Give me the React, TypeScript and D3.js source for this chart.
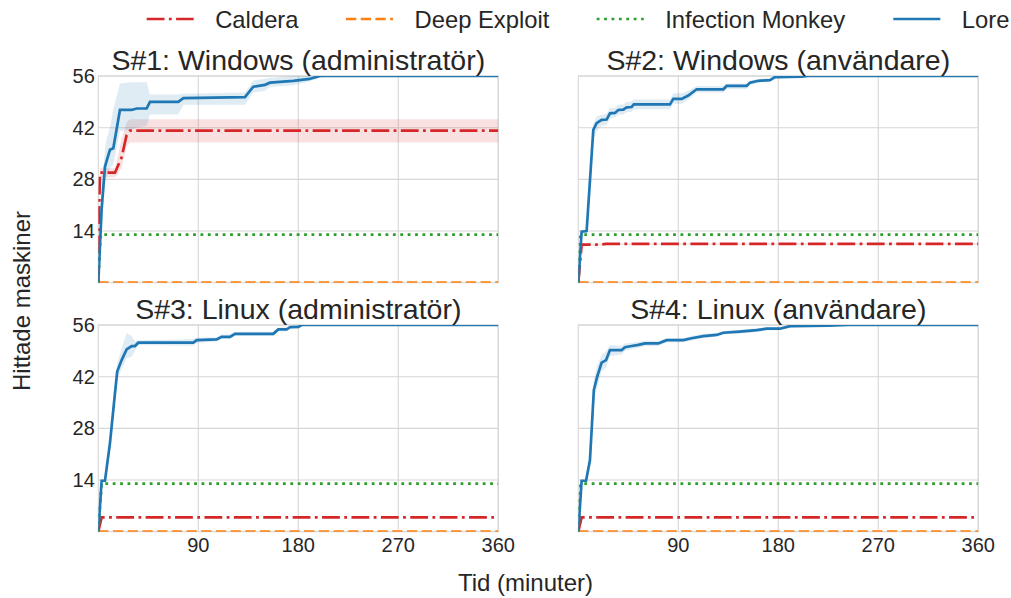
import React from 'react';
import * as d3 from 'd3';

// series names, in legend order
const seriesNames = ['Caldera', 'Deep Exploit', 'Infection Monkey', 'Lore'];
const seriesColors = ['#d62728', '#ff7f0e', '#2ca02c', '#1f77b4'];
const seriesDash = ['17.8,4.4,2.8,4.4', '10.3,4.4', '2.8,4.6', null];

const panelTitles = [
  'S#1: Windows (administratör)',
  'S#2: Windows (användare)',
  'S#3: Linux (administratör)',
  'S#4: Linux (användare)',
];

const xTicks = [90, 180, 270, 360];
const yTicks = [14, 28, 42, 56];

// [minutes, mean, low, high]
const s1Caldera = [
  [0, 0, 0, 0], [0.5, 16, 12, 20], [1.5, 29.8, 28.5, 31], [15, 29.8, 28.5, 31],
  [21, 34, 31, 39], [25.5, 40, 37, 43.5], [28.5, 41.2, 38, 44.3], [360, 41.2, 38, 44.3],
];
const s1Deep = [[0, 0, 0, 0], [360, 0, 0, 0]];
const s1Monkey = [[0, 0, 0, 0], [2, 13, 13, 13], [360, 13, 13, 13]];
const s1Lore = [
  [0, 0, 0, 0], [3, 20, 14, 26], [6, 31.4, 27, 36], [7.5, 33, 29, 39],
  [10.5, 36, 31, 42], [13.5, 36.4, 32, 47], [19.5, 46.8, 41, 54],
  [30, 46.8, 41.5, 54.3], [34.5, 47.2, 42, 54.3], [43.5, 47.2, 42.5, 54.3],
  [46.5, 49, 45.6, 51], [72, 49, 45.6, 51], [76.5, 50, 48.2, 51.2],
  [132, 50.3, 48.2, 51.5], [139.5, 53.1, 51.5, 54.8], [150, 53.6, 52, 55.2],
  [154.5, 54.2, 53, 55.5], [175.5, 54.7, 53.5, 56], [190, 55.2, 54.5, 56],
  [199.5, 56, 55.5, 56], [215, 56, 56, 56], [360, 56, 56, 56],
];

const s2Caldera = [[0, 0, 0, 0], [3, 10.3, 10, 10.6], [20, 10.3, 10, 10.6], [25, 10.5, 10.3, 10.7], [360, 10.5, 10.3, 10.7]];
const s2Deep = [[0, 0, 0, 0], [360, 0, 0, 0]];
const s2Monkey = [[0, 0, 0, 0], [2, 13, 13, 13], [360, 13, 13, 13]];
const s2Lore = [
  [0, 0, 0, 0], [3, 13.8, 13.5, 14], [7.5, 14, 13.5, 14.5], [13.5, 41.4, 38.5, 43],
  [16.5, 43.2, 41, 45], [21, 44.1, 42.5, 45.5], [25.5, 44.2, 42.8, 45.8],
  [28.5, 45.9, 44.5, 47.3], [33, 46, 44.8, 47.4], [36, 46.8, 45.5, 48.2],
  [40.5, 46.9, 45.6, 48.3], [43.5, 47.5, 46.2, 49], [48, 47.6, 46.3, 49.1],
  [50, 48.3, 47, 49.6], [82.5, 48.3, 47, 49.6], [85.5, 49.8, 48.5, 51.3],
  [93, 49.8, 48.5, 51.3], [99, 50.7, 49.5, 52], [106.5, 52.4, 51.5, 53.3],
  [130.5, 52.4, 51.5, 53.3], [133.5, 53.3, 52.5, 54], [151.5, 53.3, 52.5, 54],
  [154.5, 54.2, 53.5, 54.8], [162, 54.7, 54.2, 55.2], [172.5, 54.9, 54.5, 55.4],
  [177, 55.7, 55.3, 56], [201, 55.8, 55.5, 56], [207, 56, 56, 56], [360, 56, 56, 56],
];

const s3Caldera = [[0, 0, 0, 0], [3, 3.9, 3.9, 3.9], [360, 3.9, 3.9, 3.9]];
const s3Deep = [[0, 0, 0, 0], [360, 0, 0, 0]];
const s3Monkey = [[0, 0, 0, 0], [3, 13, 13, 13], [360, 13, 13, 13]];
const s3Lore = [
  [0, 0, 0, 0], [3, 13.8, 13.5, 14], [6, 13.8, 13.5, 14], [10.5, 24, 22, 26],
  [13.5, 33, 30.5, 35.5], [17, 43.4, 41, 45.5], [21, 46.5, 44, 49.5],
  [25.5, 49.4, 47, 53.8], [30, 50.3, 47.4, 53], [33, 50.3, 49, 51.5],
  [36, 51.2, 50.6, 51.8], [85.5, 51.2, 50.4, 52.2], [88.5, 51.9, 51.2, 52.5],
  [106.5, 52.1, 51.5, 52.7], [111, 52.8, 52.2, 53.4], [118.5, 52.8, 52.2, 53.4],
  [123, 53.6, 53, 54.2], [157.5, 53.6, 53, 54.2], [162, 54.8, 54.3, 55.3],
  [169.5, 54.8, 54.3, 55.3], [172.5, 55.4, 55, 55.9], [180, 55.5, 55.1, 56],
  [183, 56, 55.7, 56], [210, 56, 56, 56], [360, 56, 56, 56],
];

const s4Caldera = [[0, 0, 0, 0], [3, 3.9, 3.9, 3.9], [360, 3.9, 3.9, 3.9]];
const s4Deep = [[0, 0, 0, 0], [360, 0, 0, 0]];
const s4Monkey = [[0, 0, 0, 0], [2, 13, 13, 13], [360, 13, 13, 13]];
const s4Lore = [
  [0, 0, 0, 0], [3, 13.8, 13.5, 14], [7, 13.8, 13.5, 14], [10.5, 19.4, 17.5, 21.5],
  [14, 38.4, 36, 41], [17, 42, 39, 45], [21, 45.8, 43.5, 48], [25, 46.5, 44.5, 48.8],
  [28.5, 49.2, 47.5, 50.6], [39, 49.2, 48, 50.4], [42, 50, 49, 51], [48, 50.3, 49.4, 51.2],
  [54, 50.6, 49.8, 51.4], [60, 51, 50.3, 51.7], [72, 51, 50.3, 51.7], [79.5, 51.9, 51.3, 52.4],
  [94.5, 51.9, 51.3, 52.4], [102, 52.4, 51.8, 53], [112.5, 53, 52.4, 53.6],
  [124.5, 53.3, 52.8, 53.8], [130.5, 53.9, 53.4, 54.4], [145.5, 54.2, 53.7, 54.7],
  [160.5, 54.6, 54.1, 55.1], [169.5, 55, 54.6, 55.4], [181.5, 55, 54.6, 55.4],
  [190.5, 55.7, 55.3, 56], [225, 55.8, 55.5, 56], [243, 56, 56, 56], [360, 56, 56, 56],
];

const panelData = [
  [s1Caldera, s1Deep, s1Monkey, s1Lore],
  [s2Caldera, s2Deep, s2Monkey, s2Lore],
  [s3Caldera, s3Deep, s3Monkey, s3Lore],
  [s4Caldera, s4Deep, s4Monkey, s4Lore],
];

const FONT = '"Liberation Sans", Arial, sans-serif';
const TEXT = '#262626';
const GRID = '#d6d6d6';

const plotW = 400;
const plotH = 206.7;
const origins = [[98.3, 76], [578.3, 76], [98.3, 325], [578.3, 325]];
const legendX = [146.7, 346, 596.7, 893.3];

const Panel = ({ idx }: { idx: number }) => {
  const [ox, oy] = origins[idx];
  const x = d3.scaleLinear().domain([0, 360]).range([0, plotW]);
  const y = d3.scaleLinear().domain([0, 56]).range([plotH, 0]);
  const line = d3.line<number[]>().x(d => x(d[0])).y(d => y(d[1]));
  const area = d3.area<number[]>().x(d => x(d[0])).y0(d => y(d[2])).y1(d => y(d[3]));
  const isLeft = idx % 2 === 0;
  const isBottom = idx >= 2;
  const clipId = `clip${idx}`;
  return (
    <g transform={`translate(${ox},${oy})`}>
      <clipPath id={clipId}>
        <rect x={0} y={0} width={plotW} height={plotH} />
      </clipPath>
      {xTicks.map(t => (
        <line key={'gx' + t} x1={x(t)} x2={x(t)} y1={0} y2={plotH} stroke={GRID} strokeWidth={1.1} />
      ))}
      {yTicks.map(t => (
        <line key={'gy' + t} x1={0} x2={plotW} y1={y(t)} y2={y(t)} stroke={GRID} strokeWidth={1.1} />
      ))}
      <rect x={0} y={0} width={plotW} height={plotH} fill="none" stroke={GRID} strokeWidth={1.1} />
      <g clipPath={`url(#${clipId})`}>
        {panelData[idx].map((s, i) => (
          <path key={'a' + i} d={area(s) || ''} fill={seriesColors[i]} fillOpacity={0.14} stroke="none" />
        ))}
        {panelData[idx].map((s, i) => (
          <path
            key={'l' + i}
            d={line(s) || ''}
            fill="none"
            stroke={seriesColors[i]}
            strokeWidth={2.7}
            strokeDasharray={seriesDash[i] || undefined}
          />
        ))}
      </g>
      {isLeft &&
        yTicks.map(t => (
          <text key={'yt' + t} x={-3.5} y={y(t) + 7} textAnchor="end" fontSize={20} fill={TEXT}>
            {t}
          </text>
        ))}
      {isBottom &&
        xTicks.map(t => (
          <text key={'xt' + t} x={x(t)} y={plotH + 20.5} textAnchor="middle" fontSize={20} fill={TEXT}>
            {t}
          </text>
        ))}
      <text x={plotW / 2} y={-6.5} textAnchor="middle" fontSize={28.5} fill={TEXT}>
        {panelTitles[idx]}
      </text>
    </g>
  );
};

const App = () => {
  return (
    <svg
      width={1011}
      height={598}
      style={{ position: 'absolute', left: 0, top: 0, background: '#fff' }}
      fontFamily={FONT}
    >
      {seriesNames.map((name, i) => (
        <g key={name}>
          <line
            x1={legendX[i]}
            x2={legendX[i] + 47}
            y1={19}
            y2={19}
            stroke={seriesColors[i]}
            strokeWidth={2.7}
            strokeDasharray={seriesDash[i] || undefined}
          />
          <text x={legendX[i] + 68.5} y={27.5} fontSize={23.8} fill={TEXT}>
            {name}
          </text>
        </g>
      ))}
      {[0, 1, 2, 3].map(i => (
        <Panel key={i} idx={i} />
      ))}
      <text x={525.5} y={591} textAnchor="middle" fontSize={24} fill={TEXT}>
        Tid (minuter)
      </text>
      <text transform="translate(30,301) rotate(-90)" textAnchor="middle" fontSize={24} fill={TEXT}>
        Hittade maskiner
      </text>
    </svg>
  );
};

export default App;
